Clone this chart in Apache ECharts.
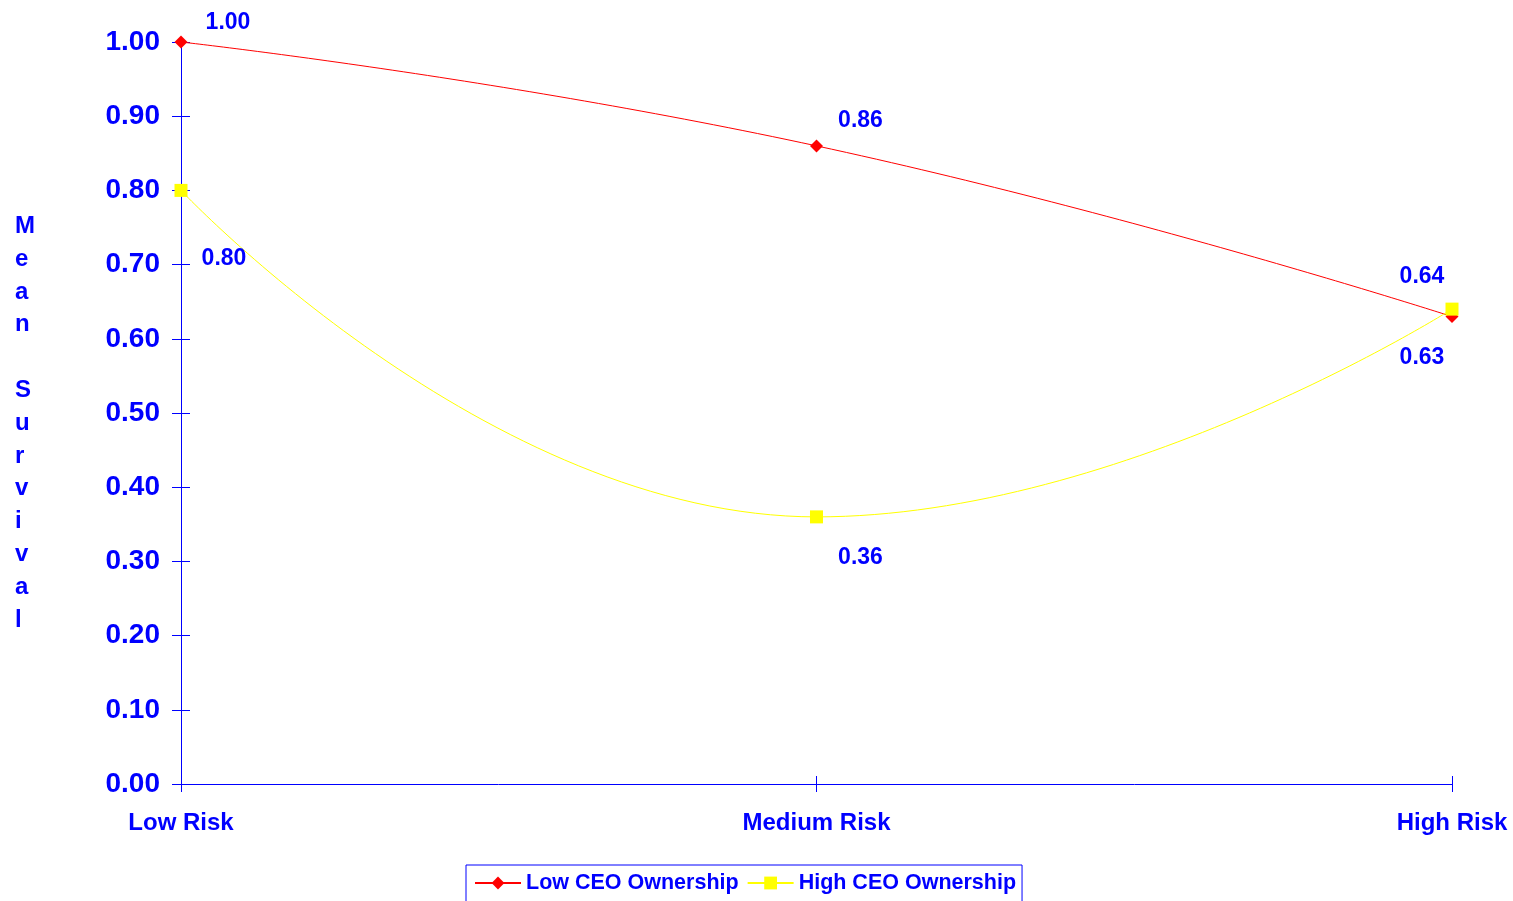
<!DOCTYPE html>
<html>
<head>
<meta charset="utf-8">
<title>Mean Survival by Risk and CEO Ownership</title>
<script src="https://cdn.jsdelivr.net/npm/echarts@6/dist/echarts.min.js"></script>
<style>
  html, body { margin: 0; padding: 0; background: #ffffff; }
  #chart { width: 1513px; height: 901px; }
</style>
</head>
<body>
<div id="chart"></div>
<script>
// Categories and series values
const categories = ['Low Risk', 'Medium Risk', 'High Risk'];
const lowOwnership = [1.00, 0.86, 0.63];
const highOwnership = [0.80, 0.36, 0.64];
const seriesNames = ['Low CEO Ownership', 'High CEO Ownership'];
const yTicks = { min: 0, max: 1, interval: 0.1 };
const yTitle = 'Mean Survival';

// Where each value label sits relative to its point (px)
const lowLabelOffsets = [[47, -19], [44, -25], [-30, 41]];
const highLabelOffsets = [[43, 68], [44, 41], [-30, -32]];

const BLUE = '#0000ff';
const FONT = 'Liberation Sans, Arial, sans-serif';

function withLabels(values, offsets) {
  return values.map((v, i) => ({
    value: v,
    label: { offset: offsets[i] }
  }));
}

const chart = echarts.init(document.getElementById('chart'));

const valueLabel = {
  show: true,
  position: 'inside',
  align: 'center',
  verticalAlign: 'middle',
  color: BLUE,
  fontFamily: FONT,
  fontWeight: 'bold',
  fontSize: 23,
  formatter: p => p.value.toFixed(2)
};

chart.setOption({
  animation: false,
  backgroundColor: '#ffffff',
  textStyle: { fontFamily: FONT },
  grid: { left: 181, right: 61, top: 42, bottom: 117, containLabel: false },
  legend: {
    left: 466,
    top: 865,
    padding: [7, 6, 20, 8],
    itemGap: 8,
    itemWidth: 46,
    itemHeight: 16,
    borderColor: BLUE,
    borderWidth: 1,
    textStyle: { color: BLUE, fontSize: 21.5, fontWeight: 'bold', fontFamily: FONT, padding: [0, 0, 0, 0] },
    data: seriesNames
  },
  graphic: [{
    type: 'text',
    left: 15,
    top: 210,
    style: {
      text: yTitle.split('').join('\n'),
      fill: BLUE,
      font: 'bold 24px ' + FONT,
      lineHeight: 32.8,
      align: 'center',
      width: 24
    }
  }],
  xAxis: [{
    type: 'category',
    data: categories,
    boundaryGap: false,
    axisLine: { lineStyle: { color: BLUE, width: 1 } },
    axisTick: { show: true, length: 8, lineStyle: { color: BLUE } },
    axisLabel: { color: BLUE, fontSize: 24, fontWeight: 'bold', fontFamily: FONT, margin: 27 },
    splitLine: { show: false }
  }, {
    type: 'category',
    data: categories,
    boundaryGap: false,
    position: 'bottom',
    axisLine: { show: false },
    axisTick: { show: true, inside: true, length: 8, lineStyle: { color: BLUE } },
    axisLabel: { show: false },
    splitLine: { show: false }
  }],
  yAxis: [{
    type: 'value',
    min: yTicks.min,
    max: yTicks.max,
    interval: yTicks.interval,
    axisLine: { show: true, lineStyle: { color: BLUE, width: 1 } },
    axisTick: { show: true, length: 9, lineStyle: { color: BLUE } },
    axisLabel: {
      color: BLUE, fontSize: 28, fontWeight: 'bold', fontFamily: FONT, margin: 21,
      formatter: v => v.toFixed(2)
    },
    splitLine: { show: false }
  }, {
    type: 'value',
    position: 'left',
    min: yTicks.min,
    max: yTicks.max,
    interval: yTicks.interval,
    axisLine: { show: false },
    axisTick: { show: true, inside: true, length: 9, lineStyle: { color: BLUE } },
    axisLabel: { show: false },
    splitLine: { show: false }
  }],
  series: [{
    name: seriesNames[0],
    type: 'line',
    data: withLabels(lowOwnership, lowLabelOffsets),
    smooth: 0.5,
    symbol: 'diamond',
    symbolSize: 13,
    z: 3,
    lineStyle: { color: '#ff0000', width: 1 },
    itemStyle: { color: '#ff0000' },
    label: valueLabel
  }, {
    name: seriesNames[1],
    type: 'line',
    data: withLabels(highOwnership, highLabelOffsets),
    smooth: 0.5,
    symbol: 'rect',
    symbolSize: 13,
    z: 4,
    lineStyle: { color: '#ffff00', width: 1 },
    itemStyle: { color: '#ffff00' },
    label: valueLabel
  }]
});
</script>
</body>
</html>
